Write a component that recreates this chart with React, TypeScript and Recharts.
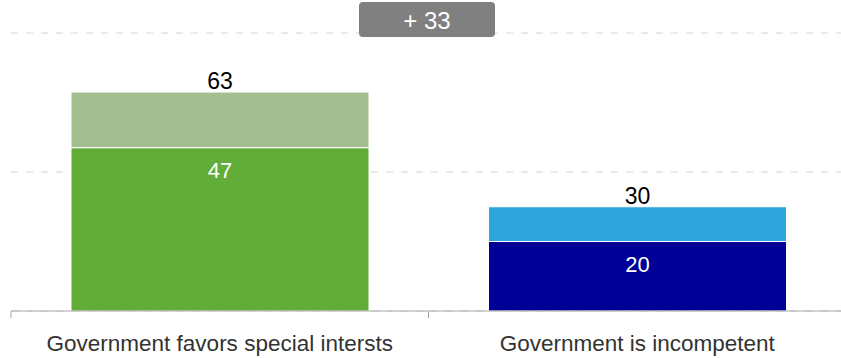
import { Bar, BarChart, CartesianGrid, Cell, LabelList, ReferenceLine, XAxis, YAxis } from 'recharts'

const categories = ['Government favors special intersts', 'Government is incompetent']
const strongValues = [47, 20]
const extraValues = [16, 10]
const totals = [63, 30]
const yTicks = [0, 40, 80]

const strongColors = ['#62AD37', '#000096']
const extraColors = ['#A3BE90', '#2EA6DC']

const font = '"Liberation Sans", Arial, sans-serif'

// plot band geometry (chart coordinates = page coordinates here)
const axisY = 311
const halfBand = (858 - 11 - 12) / categories.length / 2

const data = categories.map((name, i) => ({
  name,
  strong: strongValues[i],
  extra: extraValues[i],
}))

const gap = totals[0] - totals[1]

const DiffBadge = (props: any) => {
  const { viewBox } = props
  const cx = viewBox.x + viewBox.width / 2 - 1.5
  const top = viewBox.y - 31
  return (
    <g>
      <rect x={cx - 68} y={top} width={136} height={35} rx={4} fill="#808080" />
      <text
        x={cx}
        y={top + 27}
        textAnchor="middle"
        fill="#fff"
        fontSize={24}
        fontFamily={font}
      >
        {`+ ${gap}`}
      </text>
    </g>
  )
}

const TotalLabel = (props: any) => {
  const { x, y, width, index } = props
  return (
    <text
      x={x + width / 2}
      y={y - 3}
      textAnchor="middle"
      fill="#000"
      fontSize={23}
      fontFamily={font}
    >
      {totals[index]}
    </text>
  )
}

const InnerLabel = (props: any) => {
  const { x, y, width, value } = props
  return (
    <text
      x={x + width / 2}
      y={y + 30}
      textAnchor="middle"
      fill="#fff"
      fontSize={22}
      fontFamily={font}
    >
      {value}
    </text>
  )
}

const CategoryTick = (props: any) => {
  const { x, payload, index } = props
  const last = index === categories.length - 1
  return (
    <g>
      <line x1={x - halfBand} x2={x - halfBand} y1={axisY} y2={axisY + 7} stroke="#A6A6A6" />
      {last && (
        <line x1={x + halfBand} x2={x + halfBand} y1={axisY} y2={axisY + 7} stroke="#A6A6A6" />
      )}
      <text
        x={x}
        y={351}
        textAnchor="middle"
        fill="#333"
        fontSize={22.5}
        fontFamily={font}
      >
        {payload.value}
      </text>
    </g>
  )
}

export default function App() {
  return (
    <div
      style={{
        position: 'absolute',
        left: 0,
        top: 0,
        width: 841,
        height: 358,
        overflow: 'hidden',
        background: '#fff',
      }}
    >
      <BarChart
        width={858}
        height={358}
        data={data}
        margin={{ top: 33, right: 12, bottom: 7, left: 11 }}
      >
        <CartesianGrid
          vertical={false}
          stroke="#D6D6D6"
          strokeDasharray="7 8"
        />
        <XAxis
          dataKey="name"
          height={40}
          axisLine={{ stroke: '#A6A6A6' }}
          tickLine={false}
          interval={0}
          tick={<CategoryTick />}
        />
        <YAxis hide domain={[0, 80]} ticks={yTicks} />
        <Bar
          dataKey="strong"
          stackId="a"
          barSize={298}
          stroke="#fff"
          strokeWidth={1}
          isAnimationActive={false}
        >
          {data.map((_, i) => (
            <Cell key={`s-${i}`} fill={strongColors[i]} />
          ))}
          <LabelList dataKey="strong" content={<InnerLabel />} />
        </Bar>
        <Bar
          dataKey="extra"
          stackId="a"
          barSize={298}
          stroke="#fff"
          strokeWidth={1}
          isAnimationActive={false}
        >
          {data.map((_, i) => (
            <Cell key={`e-${i}`} fill={extraColors[i]} />
          ))}
          <LabelList dataKey="extra" content={<TotalLabel />} />
        </Bar>
        <ReferenceLine y={80} stroke="none" label={<DiffBadge />} />
      </BarChart>
    </div>
  )
}
